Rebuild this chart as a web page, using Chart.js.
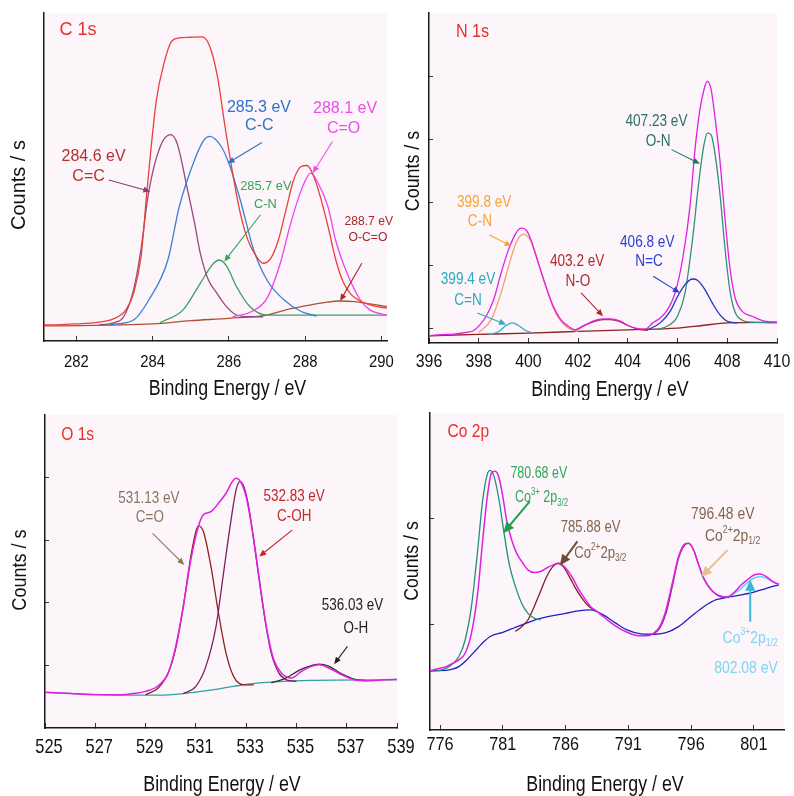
<!DOCTYPE html>
<html>
<head>
<meta charset="utf-8">
<script src="https://cdn.jsdelivr.net/npm/chart.js@4.4.0/dist/chart.umd.min.js"></script>
<style>
  body { margin: 0; background: #fff; }
  #wrap { position: relative; width: 794px; height: 796px; overflow: hidden; }
  canvas { position: absolute; }
</style>
</head>
<body>
<div id="wrap">
  <canvas id="c1s" width="397" height="400" style="left:0;top:0"></canvas>
  <canvas id="n1s" width="397" height="400" style="left:397px;top:0"></canvas>
  <canvas id="o1s" width="420" height="396" style="left:0;top:400px"></canvas>
  <canvas id="co2p" width="397" height="396" style="left:397px;top:400px"></canvas>
</div>
<script>
const SANS = '"Liberation Sans", Arial, sans-serif';
const PLOT_BG = '#fcf6fb';

// ---- C 1s ----  [binding energy, counts (relative)]
const c1sTicks = [282, 284, 286, 288, 290];
const c1sTotal = [[281.15,4.9],[281.6,5.0],[282,5.2],[282.5,5.6],[283,6.9],[283.3,9.5],[283.5,14.5],[283.7,26],[283.85,45.6],[284.1,73.5],[284.3,84.7],[284.5,91.4],[284.7,92.4],[285,92.6],[285.3,92.7],[285.5,89.8],[285.7,80.7],[285.9,65.4],[286.1,51.2],[286.3,39],[286.5,30.8],[286.7,26.2],[286.9,23.7],[287.1,25.2],[287.3,30.8],[287.5,40],[287.7,49.1],[287.9,53.2],[288.05,53.5],[288.2,51],[288.4,44],[288.6,35],[288.8,25],[289,18],[289.2,14.3],[289.4,12.5],[289.7,11],[290.15,10]];
const c1sCC = [[282.6,4.9],[283.0,5.6],[283.24,7.4],[283.5,15.6],[283.68,26.8],[283.9,45.6],[284.2,59.3],[284.47,62.9],[284.65,60],[284.9,47],[285.1,36],[285.25,26.8],[285.45,19],[285.69,14.5],[285.9,11],[286.13,8.4],[286.5,7.4],[286.9,7.4]];
const c1sCminusC = [[282.9,5],[283.5,6.4],[283.9,12.5],[284.4,24.7],[284.7,41],[285.1,55.2],[285.35,61.3],[285.5,62.4],[285.8,59.3],[286.0,54.2],[286.3,43],[286.65,27.8],[287.0,18.6],[287.45,12.5],[287.9,9],[288.3,7.6]];
const c1sCN = [[284.2,5.6],[284.8,9.5],[285.25,17.6],[285.6,23.7],[285.75,24.7],[285.95,22.7],[286.2,16.6],[286.55,10.5],[287.0,7.9],[288,7.9],[289,7.9],[290.15,7.9]];
const c1sCO = [[286.1,7.4],[286.6,9],[287.0,13],[287.35,23.7],[287.6,34.9],[287.9,46],[288.15,51.2],[288.3,49.1],[288.6,41],[288.8,30.8],[289.1,20.7],[289.45,12.5],[289.7,9.5],[290.15,7.9]];
const c1sOCO = [[281.15,4.6],[284,5.2],[285,6.2],[286,6.9],[287,7.9],[287.5,9.5],[288,10.7],[288.5,11.7],[288.9,12.2],[289.3,12],[289.7,11.3],[290.15,10.5]];

// ---- N 1s ----
const n1sTicks = [396, 398, 400, 402, 404, 406, 408, 410];
const n1sYTicks = [4.5, 23.6, 42.7, 61.8, 80.9];
const n1sTotal = [[396,2.2],[396.5,2.5],[397,2.7],[397.5,3.2],[397.8,3.8],[398,5.1],[398.3,8.1],[398.6,13.1],[398.9,21.2],[399.2,28.3],[399.5,33.3],[399.7,34.8],[399.9,34.3],[400.1,31.3],[400.4,24.2],[400.7,17.2],[401,11.1],[401.3,7.1],[401.6,5.1],[401.9,4],[402.2,5.1],[402.6,6.6],[403,7.3],[403.3,7.3],[403.7,6.6],[404,5.3],[404.3,4.5],[404.7,4.2],[405,6.1],[405.3,7.6],[405.6,10.1],[405.9,15.2],[406.2,25.3],[406.5,41.4],[406.7,58.6],[406.9,70.7],[407.1,77.8],[407.2,79.3],[407.35,76.8],[407.5,68.7],[407.7,55.6],[407.9,38.4],[408.1,23.2],[408.3,14.1],[408.6,9.6],[409,8.1],[409.5,6.6],[410,6.3]];
const n1sCN = [[398,3.2],[398.5,7.1],[398.9,15.2],[399.2,23.2],[399.5,30.3],[399.8,33],[400.1,30.8],[400.4,24.2],[400.7,17.2],[401,10.6],[401.3,6.6],[401.6,4.5],[402,3.5]];
const n1sCeqN = [[398.4,2.5],[398.8,3.5],[399.1,5.3],[399.35,6.1],[399.6,5.3],[399.9,3.7],[400.1,3.2]];
const n1sNO = [[401.8,3.5],[402.2,5.1],[402.6,6.4],[403,7.1],[403.3,7.1],[403.7,6.4],[404,5.3],[404.4,4.2],[404.8,3.8]];
const n1sBase = [[396,2.2],[398,2.6],[400,3],[402,3.5],[404,4],[406,4.5],[407,5.3],[408,6.1],[410,6.3]];
const n1sNeqC = [[404.8,4],[405.3,6.1],[405.7,9.6],[406,14.1],[406.3,17.7],[406.6,19.4],[406.8,19],[407.1,16.2],[407.4,12.1],[407.7,8.6],[408,6.6],[408.4,6.1]];
const n1sON = [[405.2,4],[405.7,5.6],[406,8.1],[406.3,15.2],[406.6,31.3],[406.85,48.5],[407.05,59.6],[407.2,63.6],[407.35,63.1],[407.5,57.6],[407.7,45.5],[407.9,29.3],[408.1,16.2],[408.3,9.6],[408.6,6.9],[409,6.3],[410,6.1]];

// ---- O 1s ----
const o1sTicks = [525, 527, 529, 531, 533, 535, 537, 539];
const o1sYTicks = [20, 40, 60, 80];
const o1sTotal = [[525,11.4],[526,11],[527,10.6],[528,10.6],[528.5,11],[529,11.7],[529.5,13.5],[529.9,17.6],[530.2,26.1],[530.5,38.8],[530.8,53.7],[531.1,64.4],[531.3,68.1],[531.6,69.1],[531.9,71.8],[532.2,75],[532.45,78.7],[532.6,79.8],[532.8,78.4],[533,73.9],[533.2,65.4],[533.4,54.8],[533.6,43.1],[533.85,30.3],[534.1,21.8],[534.4,17.6],[534.8,16],[535.2,18.1],[535.6,19.7],[535.9,20.2],[536.3,19.1],[536.8,17],[537.3,15.4],[537.8,15.1],[538.5,15.4],[539,15.6]];
const o1sBase = [[525,11.4],[528,10.5],[529.5,10.5],[530.5,11],[531.5,12],[532.5,13.3],[533.5,14.4],[534.5,14.9],[535.5,15.2],[539,15.4]];
const o1sCO = [[529,10.6],[529.5,12.8],[529.9,17.6],[530.2,25.5],[530.5,38.8],[530.8,54.8],[531,62.8],[531.1,64.6],[531.3,62.8],[531.6,51.6],[531.9,36.7],[532.2,23.9],[532.5,16.5],[532.9,13.8],[533.3,13.8]];
const o1sCOH = [[530.5,11],[531,13.3],[531.4,19.7],[531.8,32.4],[532.1,49.5],[532.4,66.5],[532.6,76.1],[532.75,78.7],[532.9,77.3],[533.1,70.7],[533.3,60.1],[533.5,48.4],[533.75,34.6],[534,23.9],[534.3,17.6],[534.6,15.4],[535,14.9]];
const o1sOH = [[534,14.4],[534.6,16],[535.1,18.4],[535.5,19.7],[535.9,20.4],[536.3,19.7],[536.8,17.3],[537.3,15.6],[537.8,15.1]];

// ---- Co 2p ----
const co2pTicks = [776, 781, 786, 791, 796, 801];
const co2pYTicks = [33.3, 66.7];
const co2pTotal = [[775.2,18.7],[776,19.5],[776.5,20],[777,21],[777.5,22.1],[778,24.2],[778.5,30.5],[779,43.2],[779.4,60],[779.8,74.7],[780.1,81.1],[780.4,81.6],[780.7,79.5],[781,73.7],[781.3,66.3],[781.7,60],[782.1,55.8],[782.6,52.6],[783,50.5],[783.5,49.7],[784,50],[784.5,51.1],[785,52.1],[785.5,52.6],[786,51.1],[786.5,48.4],[787,44.7],[787.5,41.6],[788,38.9],[788.5,37.4],[789,35.8],[789.5,34.2],[790,32.8],[790.5,31.6],[791,30.7],[791.5,30],[792,29.7],[792.5,29.7],[793,30.5],[793.5,32.6],[794,37.9],[794.5,46.3],[795,54.7],[795.5,58.7],[795.8,58.9],[796.2,56.8],[796.6,52.1],[797,47.9],[797.5,44.7],[798,42.8],[798.5,41.9],[799,42.1],[799.5,43.7],[800,45.8],[800.5,47.4],[801,48.9],[801.5,49.2],[802,48.4],[802.5,46.8],[803,46]];
const co2pCo3a = [[775.2,18.4],[776.5,19.5],[777.5,23.2],[778,28.4],[778.5,38.9],[779,56.8],[779.4,72.6],[779.8,81.1],[780,81.9],[780.3,80],[780.7,72.6],[781.1,62.1],[781.5,52.6],[782,45.3],[782.5,40],[783,36.8],[783.5,35.3],[784,34.7]];
const co2pBase = [[775.2,18.7],[776,18.7],[777,19.2],[777.5,20],[778,21.6],[778.5,23.7],[779,25.8],[779.5,27.9],[780,29.5],[781,30.8],[782,32.4],[783,33.9],[784,35.2],[785,36.1],[786,36.8],[787,37.6],[788,37.9],[789,36.3],[790,33.7],[791,31.4],[792,30.3],[793,30.2],[794,30.7],[795,32.6],[796,35.8],[797,38.9],[798,41.1],[799,41.9],[800,42.6],[801,43.5],[802,44.7],[803,45.8]];
const co2pCo2a = [[782,31.1],[782.5,32.6],[783,34.7],[783.5,38.9],[784,43.7],[784.5,48.4],[785,51.6],[785.4,52.6],[785.8,51.6],[786.3,48.4],[786.8,44.7],[787.3,41.6],[787.8,39.2],[788.3,37.9]];
const co2pCo2b = [[793,30.2],[793.5,32.1],[794,36.8],[794.5,45.3],[795,54.2],[795.5,58.4],[795.8,58.9],[796.2,56.8],[796.6,52.1],[797,47.9],[797.5,44.7],[798,42.8],[798.5,42.1],[799,41.9]];
const co2pCo3b = [[799,41.9],[799.5,43.2],[800,44.7],[800.5,46.5],[801,47.9],[801.5,48.4],[802,47.9],[802.5,46.8],[803,45.8]];

// labels and arrows, placed in data coordinates; k = horizontal squeeze of the lettering
const NOTES = {
  c1s: [
    { size: 18, k: 1, color: '#e8302a', lines: [{ t: 'C 1s', x: 282.04, y: 94.7 }] },
    { size: 16, k: 1, color: '#b5302c', lines: [{ t: '284.6 eV', x: 282.45, y: 56.3 }, { t: 'C=C', x: 282.32, y: 50.2 }],
      arrow: [282.85, 49.1, 283.94, 45.6], arrowColor: '#8a3e6e' },
    { size: 16, k: 1, color: '#2f72c4', lines: [{ t: '285.3 eV', x: 286.79, y: 71.3 }, { t: 'C-C', x: 286.8, y: 65.6 }],
      arrow: [286.87, 60.5, 285.97, 54.2] },
    { size: 16, k: 1, color: '#ee4ee8', lines: [{ t: '288.1 eV', x: 289.05, y: 71 }, { t: 'C=O', x: 289.01, y: 64.9 }],
      arrow: [288.72, 60.8, 288.2, 51.2] },
    { size: 13.5, k: 0.95, color: '#33a358', lines: [{ t: '285.7 eV', x: 286.97, y: 47.1 }, { t: 'C-N', x: 286.96, y: 41.8 }],
      arrow: [286.83, 38.5, 285.88, 24.2] },
    { size: 13.5, k: 0.9, color: '#a82828', lines: [{ t: '288.7 eV', x: 289.67, y: 36.4 }, { t: 'O-C=O', x: 289.65, y: 31.6 }],
      arrow: [289.49, 23.7, 288.92, 12.2] }
  ],
  n1s: [
    { size: 19, k: 0.85, color: '#e8302a', lines: [{ t: 'N 1s', x: 397.75, y: 94.2 }] },
    { size: 16, k: 0.85, color: '#f5a43a', lines: [{ t: '399.8 eV', x: 398.22, y: 42.4 }, { t: 'C-N', x: 398.05, y: 36.9 }],
      arrow: [398.42, 32.8, 399.32, 29.3] },
    { size: 16, k: 0.85, color: '#2aaabb', lines: [{ t: '399.4 eV', x: 397.57, y: 19.2 }, { t: 'C=N', x: 397.57, y: 12.8 }],
      arrow: [397.95, 9.1, 399.1, 5.6] },
    { size: 16, k: 0.85, color: '#b02a2a', lines: [{ t: '403.2 eV', x: 401.96, y: 24.7 }, { t: 'N-O', x: 401.99, y: 18.7 }],
      arrow: [402.12, 15.2, 403.0, 8.1] },
    { size: 16, k: 0.85, color: '#2a3ed0', lines: [{ t: '406.8 eV', x: 404.78, y: 30.5 }, { t: 'N=C', x: 404.85, y: 24.7 }],
      arrow: [405.02, 20.2, 406.09, 15.2] },
    { size: 16, k: 0.85, color: '#2a7060', lines: [{ t: '407.23 eV', x: 405.15, y: 67.2 }, { t: 'O-N', x: 405.22, y: 61.1 }],
      arrow: [405.76, 58.6, 406.9, 54.3] }
  ],
  o1s: [
    { size: 19, k: 0.82, color: '#e8302a', lines: [{ t: 'O 1s', x: 526.3, y: 93.6 }] },
    { size: 16, k: 0.84, color: '#8c7462', lines: [{ t: '531.13 eV', x: 529.13, y: 73.4 }, { t: 'C=O', x: 529.17, y: 67.3 }],
      arrow: [529.28, 62.2, 530.54, 52.1] },
    { size: 16, k: 0.84, color: '#c4262a', lines: [{ t: '532.83 eV', x: 534.91, y: 73.9 }, { t: 'C-OH', x: 534.91, y: 67.6 }],
      arrow: [534.84, 63.3, 533.52, 54.8] },
    { size: 16, k: 0.84, color: '#222222', lines: [{ t: '536.03 eV', x: 537.23, y: 39 }, { t: 'O-H', x: 537.36, y: 31.9 }],
      arrow: [537.03, 26.1, 536.5, 20.4] }
  ],
  co2p: [
    { size: 19, k: 0.82, color: '#e8302a', lines: [{ t: 'Co 2p', x: 778.25, y: 94.2 }] },
    { size: 16, k: 0.78, color: '#2ea85a', lines: [{ t: '780.68 eV', x: 783.87, y: 80.8 },
        { t: [['Co'], ['3+', 'sup'], [' 2p'], ['3/2', 'sub']], x: 784.08, y: 73.2 }],
      arrow: [783.15, 72.1, 781.03, 62.1], solid: true, arrowColor: '#1fa050' },
    { size: 16, k: 0.82, color: '#84644e', lines: [{ t: '785.88 eV', x: 788.0, y: 63.7 },
        { t: [['Co'], ['2+', 'sup'], ['2p'], ['3/2', 'sub']], x: 788.77, y: 55.8 }],
      arrow: [786.94, 59.5, 785.54, 51.9], solid: true, arrowColor: '#6e4e36' },
    { size: 16, k: 0.87, color: '#84644e', lines: [{ t: '796.48 eV', x: 798.52, y: 67.9 },
        { t: [['Co'], ['2+', 'sup'], ['2p'], ['1/2', 'sub']], x: 799.31, y: 61.1 }],
      arrow: [798.91, 56.8, 796.79, 48.2], solid: true, arrowColor: '#e8c098' },
    { size: 16, k: 0.87, color: '#7fd4ef', lines: [{ t: [['Co'], ['3+', 'sup'], ['2p'], ['1/2', 'sub']], x: 800.71, y: 28.9 },
        { t: '802.08 eV', x: 800.37, y: 19.5 }],
      arrow: [800.71, 34.2, 800.71, 47.4], solid: true, arrowColor: '#3ab4d8' }
  ]
};

const PANELS = {};

function drawArrow(ctx, x1, y1, x2, y2, color, solid) {
  const ang = Math.atan2(y2 - y1, x2 - x1);
  const hl = solid ? 11 : 7, hw = solid ? 5 : 3;
  const c = Math.cos(ang), s = Math.sin(ang);
  ctx.strokeStyle = color;
  ctx.fillStyle = color;
  ctx.lineWidth = solid ? 2 : 1.1;
  ctx.beginPath();
  ctx.moveTo(x1, y1);
  ctx.lineTo(x2 - hl * 0.8 * c, y2 - hl * 0.8 * s);
  ctx.stroke();
  ctx.beginPath();
  ctx.moveTo(x2, y2);
  ctx.lineTo(x2 - hl * c + hw * s, y2 - hl * s - hw * c);
  ctx.lineTo(x2 - hl * c - hw * s, y2 - hl * s + hw * c);
  ctx.closePath();
  ctx.fill();
}

// centred text, squeezed horizontally by k, with optional sup/sub pieces
function drawText(ctx, text, cx, cy, size, k, color, rotate) {
  const segs = typeof text === 'string' ? [[text]] : text;
  const small = Math.round(size * 0.62);
  let total = 0;
  const widths = segs.map(([t, mode]) => {
    ctx.font = (mode ? small : size) + 'px ' + SANS;
    const w = ctx.measureText(t).width * k;
    total += w;
    return w;
  });
  ctx.save();
  ctx.translate(cx, cy);
  if (rotate) ctx.rotate(rotate);
  ctx.fillStyle = color;
  ctx.textAlign = 'left';
  ctx.textBaseline = 'middle';
  let x = -total / 2;
  segs.forEach(([t, mode], i) => {
    ctx.font = (mode ? small : size) + 'px ' + SANS;
    const dy = mode === 'sup' ? -size * 0.38 : mode === 'sub' ? size * 0.32 : 0;
    ctx.save();
    ctx.translate(x, dy);
    ctx.scale(k, 1);
    ctx.fillText(t, 0, 0);
    ctx.restore();
    x += widths[i];
  });
  ctx.restore();
}

const panelPlugin = {
  id: 'panel',
  beforeDraw(chart) {
    const { ctx, chartArea: a } = chart;
    ctx.save();
    ctx.fillStyle = PLOT_BG;
    ctx.fillRect(a.left, a.top, a.right - a.left, a.bottom - a.top);
    ctx.restore();
  },
  afterDatasetsDraw(chart) {
    const ctx = chart.ctx;
    const sx = chart.scales.x, sy = chart.scales.y;
    (NOTES[chart.canvas.id] || []).forEach(n => {
      ctx.save();
      if (n.arrow) {
        drawArrow(ctx, sx.getPixelForValue(n.arrow[0]), sy.getPixelForValue(n.arrow[1]),
          sx.getPixelForValue(n.arrow[2]), sy.getPixelForValue(n.arrow[3]), n.arrowColor || n.color, n.solid);
      }
      n.lines.forEach(l => drawText(ctx, l.t, sx.getPixelForValue(l.x), sy.getPixelForValue(l.y), n.size, n.k, n.color));
      ctx.restore();
    });
  },
  afterDraw(chart) {
    // axis lettering, drawn condensed like the original figure
    const p = PANELS[chart.canvas.id];
    if (!p) return;
    const ctx = chart.ctx;
    const sx = chart.scales.x;
    sx.ticks.forEach(t => {
      drawText(ctx, String(t.value), sx.getPixelForValue(t.value) + (p.tick.offset || 0), p.tick.y, p.tick.size, p.tick.k, '#111');
    });
    const a = chart.chartArea;
    drawText(ctx, 'Binding Energy / eV', (a.left + a.right) / 2 + (p.xTitle.dx || 0), p.xTitle.y, p.xTitle.size, p.xTitle.k, '#111');
    drawText(ctx, 'Counts / s', p.yTitle.x, p.yTitle.y, p.yTitle.size, p.yTitle.k, '#111', -Math.PI / 2);
  }
};

function makePanel(id, p) {
  const canvas = document.getElementById(id);
  const W = canvas.width, H = canvas.height, A = p.area;
  PANELS[id] = p;
  new Chart(canvas, {
    type: 'line',
    data: {
      datasets: p.series.map(s => ({
        data: s.data.map(([x, y]) => ({ x, y })),
        borderColor: s.color,
        borderWidth: s.width || 1.3,
        pointRadius: 0,
        fill: false,
        cubicInterpolationMode: 'monotone'
      }))
    },
    options: {
      responsive: false,
      animation: false,
      devicePixelRatio: 1,
      layout: { padding: { left: 0, top: A.top, right: W - A.right, bottom: 0 } },
      plugins: { legend: { display: false }, tooltip: { enabled: false } },
      scales: {
        x: {
          type: 'linear',
          min: p.xMin,
          max: p.xMax,
          afterBuildTicks: s => { s.ticks = p.xTicks.map(v => ({ value: v })); },
          afterFit: s => { s.height = H - A.bottom; },
          ticks: { display: false },
          grid: { drawOnChartArea: false, drawTicks: true, tickLength: -5, color: '#333', lineWidth: 1 },
          border: { display: true, color: '#1a1a1a', width: 1.5 },
          title: { display: false }
        },
        y: {
          min: 0,
          max: 100,
          afterBuildTicks: s => { s.ticks = (p.yTicks || []).map(v => ({ value: v })); },
          afterFit: s => { s.width = A.left; },
          ticks: { display: false },
          grid: { drawOnChartArea: false, drawTicks: true, tickLength: -4, color: '#333', lineWidth: 1 },
          border: { display: true, color: '#1a1a1a', width: 1.5 },
          title: { display: false }
        }
      }
    },
    plugins: [panelPlugin]
  });
}

makePanel('c1s', {
  area: { left: 44, top: 13, right: 387, bottom: 341 },
  xMin: 281.15, xMax: 290.15, xTicks: c1sTicks,
  tick: { size: 17, k: 0.87, y: 362 },
  xTitle: { size: 22, k: 0.81, y: 389, dx: 12 },
  yTitle: { size: 21, k: 0.95, x: 19, y: 185 },
  series: [
    { data: c1sTotal, color: '#e8403a' },
    { data: c1sCO, color: '#ee44ee' },
    { data: c1sCminusC, color: '#3a80d0' },
    { data: c1sCC, color: '#9a4a7a' },
    { data: c1sCN, color: '#3aa060' },
    { data: c1sOCO, color: '#b05030' }
  ]
});

makePanel('n1s', {
  area: { left: 32, top: 13, right: 380, bottom: 343 },
  xMin: 396, xMax: 410, xTicks: n1sTicks, yTicks: n1sYTicks,
  tick: { size: 18.5, k: 0.86, y: 362 },
  xTitle: { size: 22, k: 0.81, y: 390, dx: 7 },
  yTitle: { size: 21, k: 0.85, x: 16, y: 171 },
  series: [
    { data: n1sTotal, color: '#e020e0' },
    { data: n1sCN, color: '#f0a070' },
    { data: n1sCeqN, color: '#30b0c0' },
    { data: n1sNO, color: '#a03040' },
    { data: n1sNeqC, color: '#2030c0' },
    { data: n1sON, color: '#30907a' },
    { data: n1sBase, color: '#902020' }
  ]
});

makePanel('o1s', {
  area: { left: 45, top: 15, right: 397, bottom: 328 },
  xMin: 525, xMax: 539, xTicks: o1sTicks, yTicks: o1sYTicks,
  tick: { size: 21, k: 0.78, y: 347, offset: 4 },
  xTitle: { size: 22, k: 0.81, y: 385, dx: 1 },
  yTitle: { size: 21, k: 0.86, x: 20, y: 170 },
  series: [
    { data: o1sTotal, color: '#e020e0', width: 1.5 },
    { data: o1sCOH, color: '#7a2060' },
    { data: o1sCO, color: '#902020' },
    { data: o1sOH, color: '#303030' },
    { data: o1sBase, color: '#30a0a0' }
  ]
});

makePanel('co2p', {
  area: { left: 33, top: 13, right: 387, bottom: 330 },
  xMin: 775.2, xMax: 803.4, xTicks: co2pTicks, yTicks: co2pYTicks,
  tick: { size: 18.5, k: 0.88, y: 345 },
  xTitle: { size: 22, k: 0.81, y: 385, dx: -2 },
  yTitle: { size: 21, k: 0.84, x: 15, y: 161 },
  series: [
    { data: co2pTotal, color: '#e020e0', width: 1.5 },
    { data: co2pCo3a, color: '#20907a' },
    { data: co2pCo2a, color: '#802020' },
    { data: co2pCo2b, color: '#8a208a' },
    { data: co2pCo3b, color: '#40d0f0' },
    { data: co2pBase, color: '#2020c0' }
  ]
});
</script>
</body>
</html>
